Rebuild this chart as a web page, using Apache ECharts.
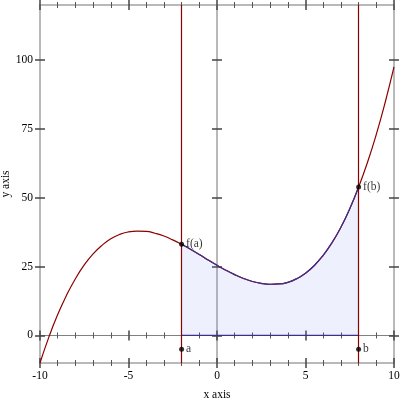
<!DOCTYPE html>
<html><head><meta charset="utf-8">
<script src="https://cdn.jsdelivr.net/npm/echarts@6/dist/echarts.min.js"></script>
<style>html,body{margin:0;padding:0;background:#fff}#c{width:400px;height:400px}</style>
</head><body><div id="c"></div>
<script>
const xValues = [-10,-9.5,-9,-8.5,-8,-7.5,-7,-6.5,-6,-5.5,-5,-4.5,-4,-3.5,-3,-2.5,-2,-1.5,-1,-0.5,0,0.5,1,1.5,2,2.5,3,3.5,4,4.5,5,5.5,6,6.5,7,7.5,8,8.5,9,9.5,10];
const yValues = [-10.0,-0.6,7.6,14.6,20.6,25.6,29.6,32.7,35.1,36.7,37.6,37.9,37.8,37.1,36.1,34.7,33.1,31.3,29.4,27.4,25.5,23.7,22.1,20.7,19.6,18.9,18.6,18.7,19.3,20.6,22.6,25.4,29.1,33.7,39.3,46.0,53.9,62.8,73.0,84.6,97.5];
const boundA = -2, boundB = 8;
const boundLabels = ['a', 'b'];
const valueLabels = ['f(a)', 'f(b)'];
const markerY = -5;
const xRange = [-10, 10];
const yRange = [-10, 120];
const xTickInterval = 5;
const yTicks = [0, 25, 50, 75, 100];
const xName = 'x axis', yName = 'y axis';

const curve = xValues.map((x, i) => [x, yValues[i]]);
const fillData = curve.filter(p => p[0] >= boundA && p[0] <= boundB);
const fa = yValues[xValues.indexOf(boundA)], fb = yValues[xValues.indexOf(boundB)];

const FONT = 'Liberation Serif';
const frameColor = '#b9b9b9';
const tickColor = '#444';
const minorColor = '#555';

function xAxisDef(pos, inside, onZero, showLabel) {
  return {
    type: 'value', position: pos, min: xRange[0], max: xRange[1], interval: xTickInterval,
    axisLine: { show: true, onZero: onZero, onZeroAxisIndex: 0,
      lineStyle: onZero ? { color: '#808080', width: 1 } : { color: frameColor, width: 2 } },
    axisTick: { show: true, inside: inside, length: 5, lineStyle: { color: tickColor, width: 1.5 } },
    minorTick: { show: true, splitNumber: 5, length: 3, lineStyle: { color: minorColor, width: 1 } },
    axisLabel: { show: showLabel, margin: 7, fontFamily: FONT, fontSize: 11.5, color: '#000' },
    name: showLabel ? xName : '', nameLocation: 'middle', nameGap: 26, nameMoveOverlap: false,
    nameTextStyle: { fontFamily: FONT, fontSize: 11.5, color: '#000' },
    splitLine: { show: false }, minorSplitLine: { show: false }
  };
}
function yAxisDef(pos, inside, onZero, showLabel) {
  return {
    type: 'value', position: pos, min: yRange[0], max: yRange[1],
    axisLine: { show: true, onZero: onZero, onZeroAxisIndex: 0,
      lineStyle: { color: frameColor, width: 2 } },
    axisTick: { show: true, inside: inside, length: 5, customValues: yTicks,
      lineStyle: { color: tickColor, width: 1.5 } },
    axisLabel: { show: showLabel, margin: 7, customValues: yTicks, fontFamily: FONT, fontSize: 11.5, color: '#000' },
    name: showLabel ? yName : '', nameLocation: 'middle', nameGap: 28, nameMoveOverlap: false,
    nameTextStyle: { fontFamily: FONT, fontSize: 11.5, color: '#000' },
    splitLine: { show: false }, minorTick: { show: false }
  };
}

const chart = echarts.init(document.getElementById('c'), null, { renderer: 'canvas' });
chart.setOption({
  animation: false,
  backgroundColor: '#fff',
  grid: { left: 40, right: 6, top: 5, bottom: 37, containLabel: false, outerBoundsMode: 'none' },
  xAxis: [
    xAxisDef('bottom', false, false, true),
    xAxisDef('bottom', true, false, false),
    xAxisDef('top', false, false, false),
    xAxisDef('top', true, false, false),
    xAxisDef('bottom', false, true, false),
    xAxisDef('bottom', true, true, false)
  ],
  yAxis: [
    yAxisDef('left', false, false, true),
    yAxisDef('left', true, false, false),
    yAxisDef('right', false, false, false),
    yAxisDef('right', true, false, false),
    yAxisDef('left', false, true, false),
    yAxisDef('left', true, true, false)
  ],
  series: [
    { type: 'line', data: fillData, smooth: true, showSymbol: false, z: 2,
      lineStyle: { width: 0 }, areaStyle: { color: 'rgba(120,130,240,0.17)', origin: 0 } },
    { type: 'line', data: curve, smooth: true, showSymbol: false, z: 3,
      lineStyle: { color: '#8b0000', width: 1.2 } },
    { type: 'line', data: fillData, smooth: true, showSymbol: false, z: 4,
      lineStyle: { color: '#3d2f8e', width: 1.2 } },
    { type: 'line', data: [[boundA, 0], [boundB, 0]], showSymbol: false, z: 4,
      lineStyle: { color: '#3d2f8e', width: 1.2 },
      markLine: { silent: true, symbol: 'none', label: { show: false },
        lineStyle: { color: '#8b0000', width: 1.2, type: 'solid' },
        data: [{ xAxis: boundA }, { xAxis: boundB }] } },
    { type: 'scatter', z: 6, symbolSize: 5, itemStyle: { color: '#000' },
      label: { show: true, position: 'right', distance: 2, fontFamily: FONT, fontSize: 11.5, color: '#000',
        formatter: p => p.data[2] },
      data: [[boundA, fa, valueLabels[0]], [boundB, fb, valueLabels[1]],
             [boundA, markerY, boundLabels[0]], [boundB, markerY, boundLabels[1]]] }
  ]
});
</script></body></html>
